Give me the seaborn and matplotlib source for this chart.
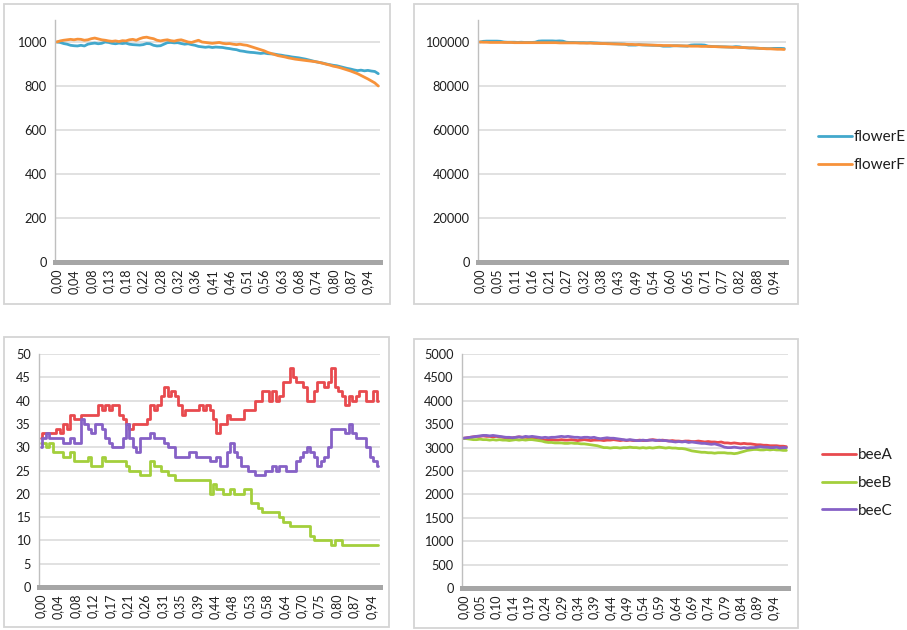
import numpy as np
import pandas as pd
import matplotlib
matplotlib.use("Agg")
import matplotlib.pyplot as plt
from matplotlib.patches import Rectangle
import seaborn as sns

# ---------------- data ----------------
# flower populations, small scale run (top left)
flowerE_small = [1000, 998, 993, 990, 985, 983, 982, 985, 982, 990,
                 993, 995, 992, 994, 1000, 998, 994, 992, 995, 993,
                 995, 990, 988, 987, 986, 988, 993, 992, 985, 982,
                 983, 990, 997, 998, 996, 997, 993, 990, 992, 988,
                 985, 980, 978, 976, 978, 975, 977, 976, 975, 972,
                 970, 967, 965, 960, 958, 955, 953, 952, 950, 948,
                 950, 947, 946, 945, 942, 940, 937, 935, 932, 930,
                 928, 925, 922, 918, 914, 910, 907, 904, 900, 897,
                 894, 892, 888, 884, 880, 877, 873, 870, 872, 869,
                 871, 868, 866, 856]
flowerF_small = [1000, 1005, 1008, 1010, 1012, 1010, 1013, 1012, 1008, 1010,
                 1015, 1018, 1014, 1010, 1008, 1005, 1003, 1005, 1002, 1006,
                 1005, 1010, 1012, 1008, 1015, 1020, 1022, 1018, 1015, 1008,
                 1005, 1008, 1010, 1006, 1004, 1008, 1010, 1005, 1000, 998,
                 1003, 1008, 1000, 998, 996, 994, 996, 998, 994, 992,
                 993, 990, 988, 990, 987, 985, 980, 975, 970, 965,
                 960, 953, 948, 943, 938, 935, 932, 928, 925, 922,
                 920, 918, 916, 914, 912, 910, 907, 903, 899, 895,
                 890, 887, 883, 878, 873, 868, 862, 856, 848, 840,
                 832, 823, 814, 800]
labels_tl = ["0,00", "0,04", "0,08", "0,13", "0,18", "0,22", "0,28", "0,32",
             "0,36", "0,41", "0,46", "0,51", "0,56", "0,63", "0,68", "0,74",
             "0,80", "0,87", "0,94"]

# flower populations, large scale run (top right)
flowerE_large = [100000, 100300, 100400, 100400, 100400, 100400, 100300, 100000, 99900, 99900,
                 99900, 99800, 99900, 99800, 99800, 99800, 99900, 100400, 100500, 100500,
                 100500, 100500, 100400, 100500, 100400, 99900, 99800, 99800, 99700, 99700,
                 99700, 99600, 99700, 99600, 99500, 99400, 99300, 99300, 99200, 99200,
                 99100, 99100, 99000, 98600, 98600, 98600, 98800, 98700, 98600, 98600,
                 98500, 98500, 98400, 98100, 98100, 98100, 98300, 98300, 98200, 98200,
                 98100, 98600, 98700, 98700, 98700, 98600, 98100, 98000, 97900, 97900,
                 97800, 97800, 97700, 97700, 97900, 97800, 97500, 97400, 97300, 97300,
                 97200, 97100, 97100, 97000, 97000, 97100, 97100, 97100, 97000]
flowerF_large = [100000, 99900, 99900, 99800, 99800, 99800, 99800, 99800, 99800, 99800,
                 99700, 99700, 99700, 99700, 99700, 99700, 99700, 99700, 99700, 99700,
                 99700, 99700, 99700, 99600, 99600, 99600, 99600, 99600, 99600, 99500,
                 99500, 99500, 99500, 99400, 99400, 99300, 99300, 99200, 99200, 99100,
                 99100, 99000, 99000, 98900, 98900, 98800, 98800, 98700, 98700, 98600,
                 98600, 98500, 98500, 98400, 98400, 98400, 98300, 98300, 98300, 98200,
                 98200, 98100, 98100, 98100, 98000, 98000, 98000, 97900, 97900, 97800,
                 97800, 97700, 97700, 97600, 97600, 97500, 97500, 97400, 97300, 97300,
                 97200, 97100, 97000, 96900, 96900, 96800, 96700, 96700, 96600]
labels_tr = ["0,00", "0,05", "0,11", "0,16", "0,21", "0,27", "0,32", "0,38",
             "0,43", "0,49", "0,54", "0,60", "0,65", "0,71", "0,77", "0,82",
             "0,88", "0,94"]

# bee populations, small scale run (bottom left)
beeA_small = [32, 33, 33, 33, 33, 34, 33, 35, 34, 37,
              36, 36, 37, 37, 37, 37, 37, 39, 38, 39,
              38, 39, 39, 37, 36, 35, 34, 35, 35, 35,
              35, 36, 39, 38, 39, 41, 43, 41, 42, 41,
              39, 37, 38, 38, 38, 38, 39, 38, 39, 38,
              36, 33, 35, 35, 37, 36, 36, 36, 36, 38,
              38, 38, 40, 40, 42, 42, 40, 42, 40, 41,
              44, 44, 47, 45, 44, 44, 43, 40, 40, 42,
              44, 44, 43, 44, 47, 43, 42, 41, 39, 41,
              40, 41, 42, 42, 40, 40, 42, 40]
beeB_small = [31, 31, 30, 31, 29, 29, 29, 28, 28, 29,
              27, 27, 27, 27, 28, 26, 26, 26, 28, 27,
              27, 27, 27, 27, 27, 26, 25, 25, 25, 24,
              24, 24, 27, 26, 26, 25, 25, 24, 24, 23,
              23, 23, 23, 23, 23, 23, 23, 23, 23, 20,
              22, 21, 21, 20, 20, 21, 20, 20, 20, 21,
              21, 18, 18, 17, 16, 16, 16, 16, 16, 15,
              14, 14, 13, 13, 13, 13, 13, 13, 11, 10,
              10, 10, 10, 10, 9, 10, 10, 9, 9, 9,
              9, 9, 9, 9, 9, 9, 9, 9]
beeC_small = [30, 32, 33, 32, 32, 32, 32, 31, 31, 32,
              31, 31, 36, 35, 34, 33, 35, 35, 34, 32,
              31, 30, 30, 30, 32, 35, 32, 30, 29, 32,
              32, 32, 33, 32, 32, 32, 31, 30, 30, 28,
              28, 28, 28, 29, 29, 28, 28, 28, 28, 27,
              27, 28, 26, 26, 29, 31, 29, 28, 26, 26,
              25, 25, 24, 24, 24, 25, 25, 26, 25, 26,
              26, 25, 25, 25, 27, 28, 29, 30, 29, 28,
              26, 27, 28, 30, 34, 34, 34, 34, 33, 35,
              33, 32, 32, 32, 30, 28, 27, 26]
labels_bl = ["0,00", "0,04", "0,08", "0,12", "0,17", "0,21", "0,26", "0,31",
             "0,35", "0,39", "0,44", "0,48", "0,53", "0,58", "0,64", "0,70",
             "0,75", "0,80", "0,87", "0,94"]

# bee populations, large scale run (bottom right)
beeA_large = [3200, 3210, 3220, 3230, 3240, 3240, 3250, 3240, 3240, 3230,
              3240, 3230, 3220, 3210, 3200, 3210, 3220, 3230, 3220, 3220,
              3210, 3200, 3180, 3170, 3170, 3160, 3170, 3170, 3160, 3160,
              3170, 3160, 3160, 3170, 3160, 3150, 3160, 3170, 3160, 3150,
              3160, 3160, 3160, 3150, 3160, 3160, 3170, 3160, 3150, 3160,
              3150, 3160, 3150, 3150, 3160, 3150, 3150, 3160, 3170, 3160,
              3150, 3160, 3150, 3140, 3150, 3140, 3140, 3130, 3140, 3140,
              3130, 3130, 3140, 3130, 3120, 3130, 3120, 3120, 3110, 3120,
              3100, 3100, 3090, 3100, 3090, 3080, 3090, 3080, 3080, 3070,
              3060, 3060, 3050, 3050, 3040, 3040, 3040, 3030, 3030, 3020]
beeB_large = [3200, 3190, 3180, 3170, 3170, 3180, 3170, 3170, 3160, 3170,
              3160, 3170, 3160, 3160, 3150, 3160, 3170, 3160, 3170, 3160,
              3170, 3170, 3160, 3150, 3140, 3120, 3110, 3110, 3100, 3100,
              3100, 3090, 3090, 3100, 3090, 3090, 3080, 3080, 3070, 3060,
              3050, 3040, 3020, 3000, 3000, 2990, 3000, 3000, 2990, 3000,
              3000, 3010, 3000, 3000, 2990, 3000, 2990, 3000, 2990, 3000,
              3010, 3000, 2990, 3000, 2990, 2990, 2980, 2980, 2970, 2950,
              2930, 2920, 2910, 2900, 2900, 2890, 2890, 2880, 2890, 2890,
              2890, 2880, 2880, 2870, 2880, 2900, 2920, 2940, 2950, 2960,
              2960, 2950, 2950, 2960, 2950, 2960, 2950, 2950, 2940, 2940]
beeC_large = [3200, 3210, 3220, 3230, 3240, 3250, 3260, 3260, 3250, 3260,
              3250, 3240, 3230, 3220, 3220, 3210, 3220, 3230, 3220, 3240,
              3230, 3240, 3230, 3220, 3210, 3220, 3210, 3220, 3220, 3230,
              3240, 3230, 3240, 3230, 3220, 3220, 3210, 3220, 3220, 3210,
              3220, 3200, 3190, 3200, 3210, 3200, 3200, 3190, 3180, 3170,
              3160, 3170, 3160, 3150, 3150, 3160, 3150, 3160, 3160, 3150,
              3160, 3150, 3150, 3140, 3130, 3120, 3130, 3120, 3130, 3110,
              3120, 3110, 3100, 3090, 3090, 3080, 3070, 3080, 3060, 3040,
              3010, 3000, 3000, 3010, 3000, 2990, 3000, 2990, 3000, 3000,
              3010, 3020, 3010, 3010, 3000, 3000, 3010, 2990, 3000, 3000]
labels_br = ["0,00", "0,05", "0,10", "0,14", "0,19", "0,24", "0,29", "0,34",
             "0,39", "0,44", "0,49", "0,54", "0,59", "0,64", "0,69", "0,74",
             "0,79", "0,84", "0,89", "0,94"]

# ---------------- style ----------------
sns.set_theme(style="white")
plt.rcParams["font.family"] = ["Lato", "DejaVu Sans"]

C_BLUE = "#42A8CC"
C_ORANGE = "#F7923A"
C_RED = "#E84A4E"
C_GREEN = "#A3CF3C"
C_PURPLE = "#8661C6"
GRID = "#D9D9D9"
AXIS = "#BFBFBF"
BAR = "#A6A6A6"
TXT = "#1E1E1E"

W, H = 907, 630
fig = plt.figure(figsize=(W / 100, H / 100), dpi=100)
fig.patch.set_facecolor("white")


def px_axes(x0, y_top, x1, y_bot):
    return fig.add_axes([x0 / W, 1 - y_bot / H, (x1 - x0) / W, (y_bot - y_top) / H])


def frame(x0, y0, x1, y1):
    fig.add_artist(Rectangle((x0 / W, 1 - y1 / H), (x1 - x0) / W, (y1 - y0) / H,
                             transform=fig.transFigure, fill=False,
                             ec="#D4D4D4", lw=1.3))


def panel(ax, series, labels, yticks, ytop, stepped=False):
    n = len(series[0][0])
    idx = np.arange(n)
    extra = {"drawstyle": "steps-mid"} if stepped else {}
    for vals, color, name in series:
        df = pd.DataFrame({"t": idx, "v": vals})
        sns.lineplot(data=df, x="t", y="v", ax=ax, color=color, lw=2.0,
                     label=name, legend=False, **extra)
    ax.set_xlim(-0.5, n - 0.5)
    ax.set_ylim(0, ytop)
    ax.set_yticks(yticks)
    ax.set_yticklabels([str(v) for v in yticks])
    ax.set_xticks(np.arange(len(labels)) * 5)
    ax.set_xticklabels(labels, rotation=90)
    ax.set_xlabel("")
    ax.set_ylabel("")
    ax.grid(axis="y", color=GRID, lw=1.1)
    ax.grid(axis="x", visible=False)
    ax.set_axisbelow(True)
    for s in ("top", "right"):
        ax.spines[s].set_visible(False)
    ax.spines["left"].set_color(AXIS)
    ax.spines["left"].set_linewidth(1.0)
    ax.spines["bottom"].set_color(BAR)
    ax.spines["bottom"].set_linewidth(3.6)
    ax.tick_params(axis="y", length=3, width=0.8, color=AXIS, pad=3,
                   labelsize=9.2, labelcolor=TXT)
    ax.tick_params(axis="x", length=0, pad=5, labelsize=9.0, labelcolor=TXT)
    ax.set_facecolor("white")


# panel frames
frame(4, 4, 390, 304)
frame(414, 4, 798, 304)
frame(4, 337, 389, 627)
frame(414, 339, 798, 628)

ax_tl = px_axes(55, 20, 380, 262)
panel(ax_tl, [(flowerE_small, C_BLUE, "flowerE"), (flowerF_small, C_ORANGE, "flowerF")],
      labels_tl, list(range(0, 1001, 200)), 1100)

ax_tr = px_axes(478, 20, 786, 262)
panel(ax_tr, [(flowerE_large, C_BLUE, "flowerE"), (flowerF_large, C_ORANGE, "flowerF")],
      labels_tr, list(range(0, 100001, 20000)), 110000)

ax_bl = px_axes(39, 354, 380, 587)
panel(ax_bl, [(beeA_small, C_RED, "beeA"), (beeB_small, C_GREEN, "beeB"),
              (beeC_small, C_PURPLE, "beeC")],
      labels_bl, list(range(0, 51, 5)), 50, stepped=True)

ax_br = px_axes(462, 354, 788, 588)
panel(ax_br, [(beeA_large, C_RED, "beeA"), (beeB_large, C_GREEN, "beeB"),
              (beeC_large, C_PURPLE, "beeC")],
      labels_br, list(range(0, 5001, 500)), 5000)

# legends to the right of the right-hand charts
h, l = ax_tr.get_legend_handles_labels()
fig.legend(h, l, loc="center left", bbox_to_anchor=(818 / W, 1 - 151 / H),
           frameon=False, fontsize=11, handlelength=2.2, handletextpad=0.15,
           labelspacing=0.9, borderpad=0, borderaxespad=0, labelcolor=TXT)
h, l = ax_br.get_legend_handles_labels()
fig.legend(h, l, loc="center left", bbox_to_anchor=(822 / W, 1 - 483 / H),
           frameon=False, fontsize=11, handlelength=2.2, handletextpad=0.15,
           labelspacing=0.9, borderpad=0, borderaxespad=0, labelcolor=TXT)

fig.savefig("out.png", dpi=100, facecolor="white")
